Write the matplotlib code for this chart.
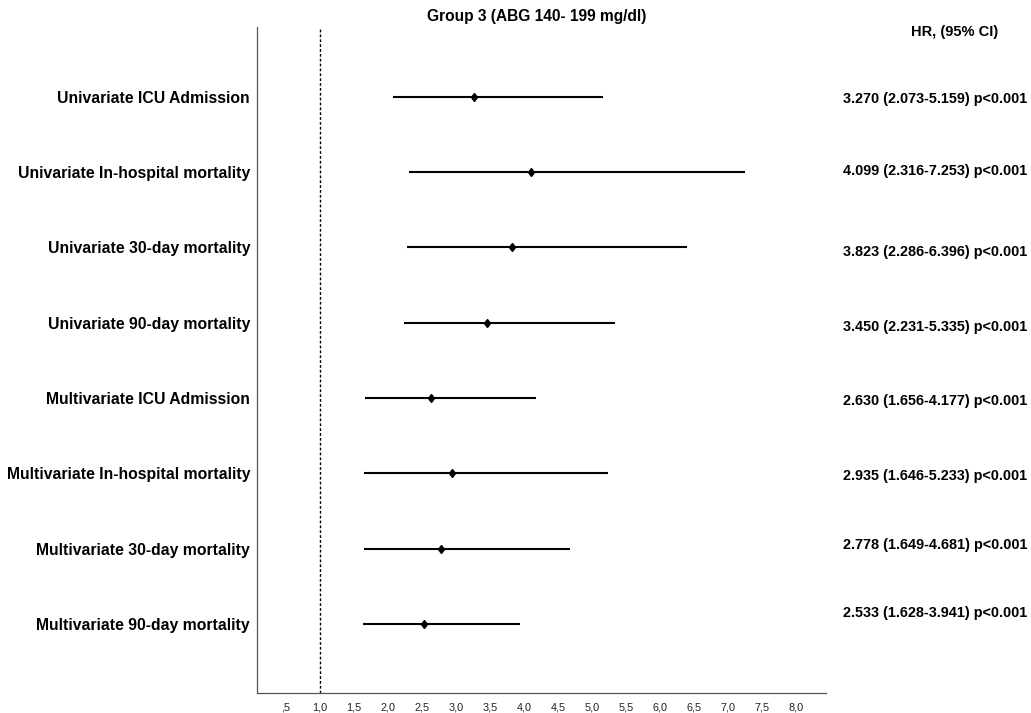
import matplotlib.pyplot as plt
from matplotlib.ticker import FixedLocator

plt.rcParams['font.family'] = ['Liberation Sans', 'DejaVu Sans']

# outcomes, top to bottom
labels = ['Univariate ICU Admission', 'Univariate In-hospital mortality',
          'Univariate 30-day mortality', 'Univariate 90-day mortality',
          'Multivariate ICU Admission', 'Multivariate In-hospital mortality',
          'Multivariate 30-day mortality', 'Multivariate 90-day mortality']
hr = [3.270, 4.099, 3.823, 3.450, 2.630, 2.935, 2.778, 2.533]
ci_low = [2.073, 2.316, 2.286, 2.231, 1.656, 1.646, 1.649, 1.628]
ci_high = [5.159, 7.253, 6.396, 5.335, 4.177, 5.233, 4.681, 3.941]
p_text = ['p<0.001'] * 8

tick_values = [0.5, 1.0, 1.5, 2.0, 2.5, 3.0, 3.5, 4.0, 4.5, 5.0, 5.5, 6.0, 6.5, 7.0, 7.5, 8.0]
tick_labels = [',5', '1,0', '1,5', '2,0', '2,5', '3,0', '3,5', '4,0',
               '4,5', '5,0', '5,5', '6,0', '6,5', '7,0', '7,5', '8,0']

# small vertical nudges of the right-hand texts as in the original
text_shift = [0.03, -0.02, 0.06, 0.05, 0.04, 0.04, -0.05, -0.14]

fig = plt.figure(figsize=(10.31, 7.13), dpi=100)
ax = fig.add_axes([257 / 1031, 20 / 713, 569 / 1031, 666 / 713])

rows = list(range(1, len(labels) + 1))
for y, m, lo, hi in zip(rows, hr, ci_low, ci_high):
    ax.plot([lo, hi], [y, y], color='black', lw=1.5, solid_capstyle='butt')
    ax.plot(m, y, marker='d', color='black', markersize=4.5)

# reference line at HR = 1
ax.axvline(1.0, color='black', lw=1.0, ls=(0, (2, 1.5)))

ax.set_xlim(0.074, 8.44)
ax.set_ylim(8.92, 0.07)

ax.xaxis.set_major_locator(FixedLocator(tick_values))
ax.set_xticklabels(tick_labels, fontsize=7.8, color='#222222')
ax.tick_params(axis='x', length=0, pad=7)
ax.set_yticks(rows)
ax.set_yticklabels(labels, fontsize=11.3, fontweight='bold')
ax.tick_params(axis='y', length=0, pad=5)

ax.spines['top'].set_visible(False)
ax.spines['right'].set_visible(False)
for s in ['left', 'bottom']:
    ax.spines[s].set_color('#555555')
    ax.spines[s].set_linewidth(0.9)

# right hand column with the hazard ratios
text_x = 1.0 + (843 - 826) / 569
for y, m, lo, hi, p, dy in zip(rows, hr, ci_low, ci_high, p_text, text_shift):
    ax.text(text_x, y + dy, f'{m:.3f} ({lo:.3f}-{hi:.3f}) {p}',
            transform=ax.get_yaxis_transform(), fontsize=10.4, fontweight='bold',
            ha='left', va='center', clip_on=False)

fig.text(955 / 1031, 1 - 32 / 713, 'HR, (95% CI)', fontsize=10.5, fontweight='bold',
         ha='center', va='center')
fig.text(537 / 1031, 1 - 17 / 713, 'Group 3 (ABG 140- 199 mg/dl)', fontsize=11.2,
         fontweight='bold', ha='center', va='center')

fig.savefig('out.png', dpi=100)
